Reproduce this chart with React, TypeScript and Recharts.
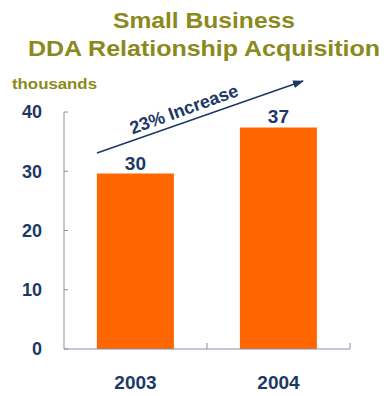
import { Bar, BarChart, LabelList, XAxis, YAxis } from 'recharts';

const years = ['2003', '2004'];
const acquisitions = [29.6, 37.4];
const valueLabels = ['30', '37'];
const yTicks = [0, 10, 20, 30, 40];

const data = years.map((year, i) => ({ year, value: acquisitions[i], label: valueLabels[i] }));

const NAVY = '#1c3966';
const OLIVE = '#8a8a1c';
const AXIS = '#8391a8';
const FONT = '"Liberation Sans", Arial, sans-serif';

function YearTick(props: any) {
  const { x, y, payload } = props;
  const half = payload?.offset ?? 71.5;
  return (
    <g>
      <text x={x} y={y + 40} textAnchor="middle" fill={NAVY} fontSize={19} fontWeight="bold" fontFamily={FONT}>
        {payload.value}
      </text>
      <line x1={x + half} x2={x + half} y1={y - 6} y2={y} stroke={AXIS} strokeWidth={1} />
    </g>
  );
}

export default function App() {
  return (
    <div style={{ position: 'absolute', left: 0, top: 0, width: 384, height: 396, background: '#fff', fontFamily: FONT }}>
      <BarChart width={384} height={396} data={data} margin={{ top: 112, right: 34, left: 0, bottom: 0 }} barCategoryGap="23%">
        <XAxis
          dataKey="year"
          height={47}
          stroke={AXIS}
          tickLine={false}
          tickSize={0}
          tickMargin={0}
          tick={<YearTick />}
        />
        <YAxis
          width={64}
          domain={[0, 40]}
          ticks={yTicks}
          stroke={AXIS}
          tickSize={-4}
          tickMargin={26}
          tick={{ fill: NAVY, fontSize: 18, fontWeight: 'bold', fontFamily: FONT }}
        />
        <Bar dataKey="value" fill="#ff6600" isAnimationActive={false}>
          <LabelList dataKey="label" position="top" offset={4} fill={NAVY} fontSize={19} fontWeight="bold" fontFamily={FONT} />
        </Bar>
      </BarChart>
      <svg width={384} height={396} style={{ position: 'absolute', left: 0, top: 0, pointerEvents: 'none' }}>
        <defs>
          <marker id="arrowHead" markerWidth="11" markerHeight="8" refX="10" refY="4" orient="auto" markerUnits="userSpaceOnUse">
            <path d="M0,0 L11,4 L0,8 Z" fill={NAVY} />
          </marker>
        </defs>
        <text x={204} y={28} textAnchor="middle" fill={OLIVE} fontSize={22} fontWeight="bold" fontFamily={FONT} textLength={182} lengthAdjust="spacingAndGlyphs">
          Small Business
        </text>
        <text x={204} y={56} textAnchor="middle" fill={OLIVE} fontSize={22} fontWeight="bold" fontFamily={FONT} textLength={352} lengthAdjust="spacingAndGlyphs">
          DDA Relationship Acquisition
        </text>
        <text x={12} y={89} fill={OLIVE} fontSize={15} fontWeight="bold" fontFamily={FONT} textLength={85} lengthAdjust="spacingAndGlyphs">
          thousands
        </text>
        <line x1={97} y1={153} x2={303} y2={81} stroke={NAVY} strokeWidth={1.5} markerEnd="url(#arrowHead)" />
        <text
          x={186}
          y={115}
          textAnchor="middle"
          fill={NAVY}
          fontSize={18}
          fontWeight="bold"
          fontFamily={FONT}
          transform="rotate(-20 186 115)"
        >
          23% Increase
        </text>
      </svg>
    </div>
  );
}
